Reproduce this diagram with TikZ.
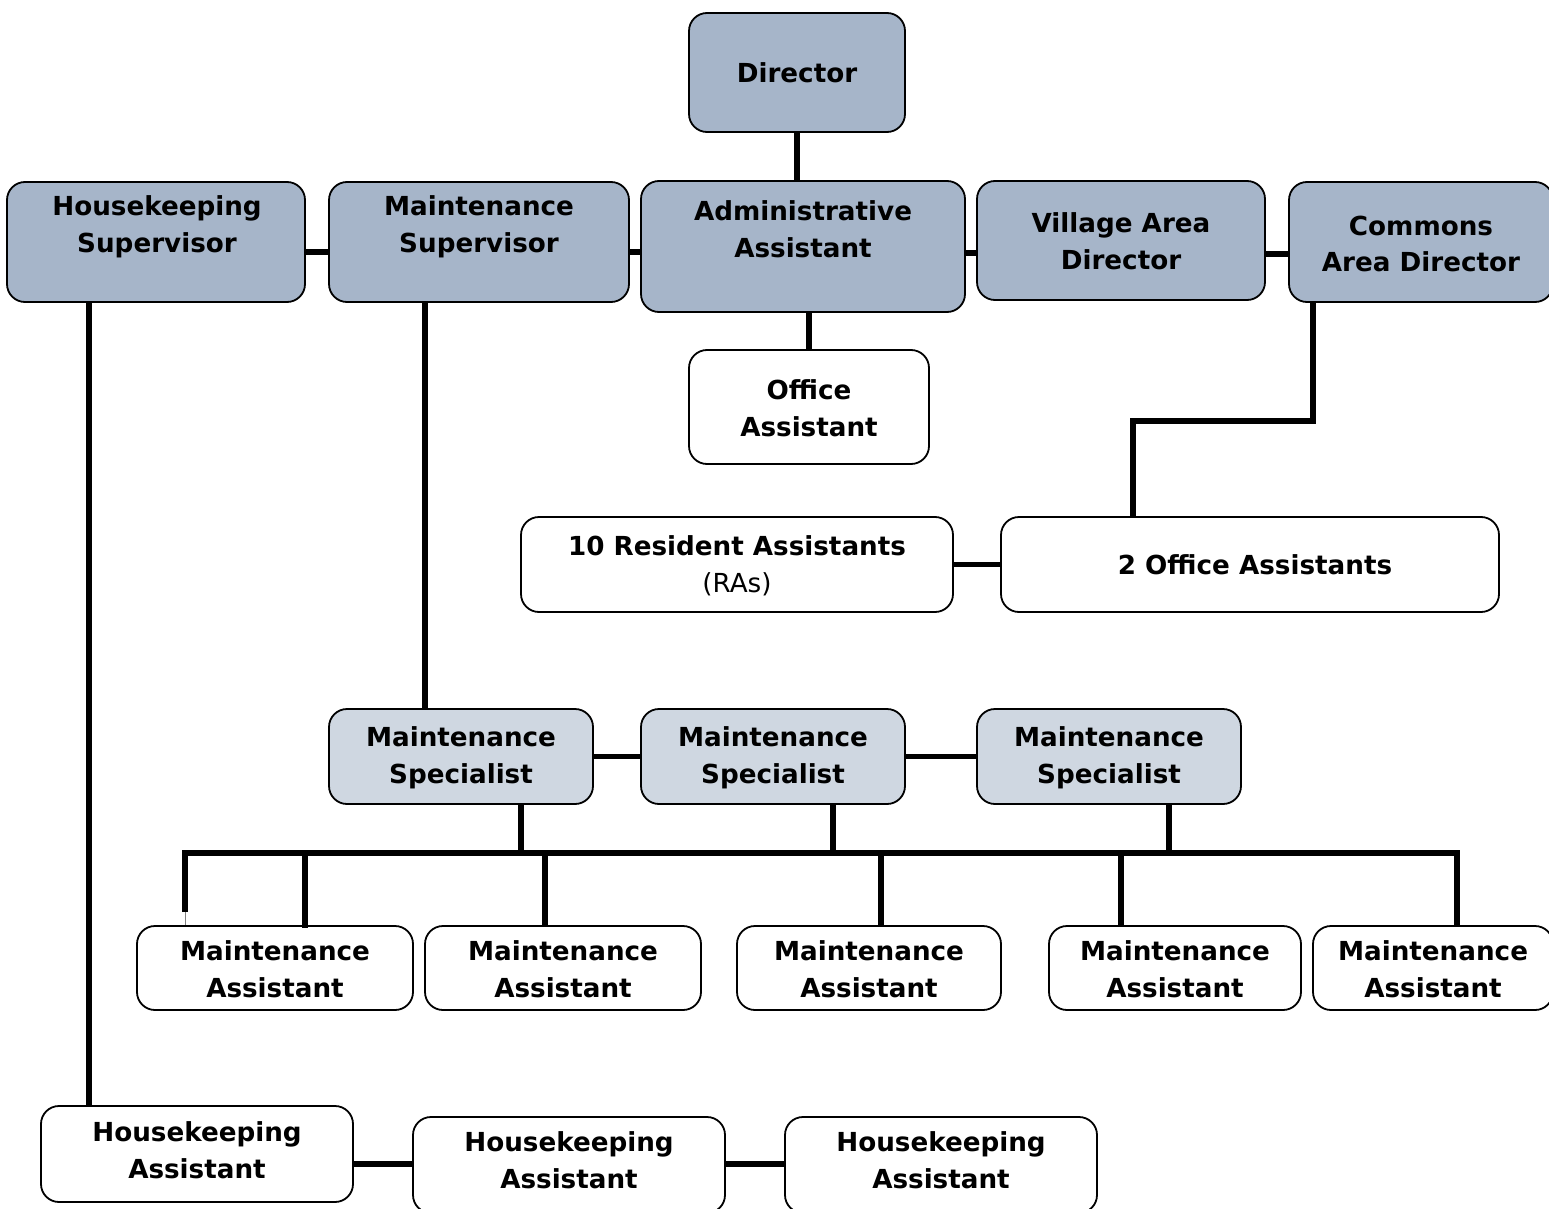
\documentclass[tikz,border=0pt]{standalone}
\usepackage{fontspec}
\setmainfont{DejaVu Sans}
\definecolor{topfill}{HTML}{A6B5C9}
\definecolor{specfill}{HTML}{CFD7E1}
\tikzset{
  box/.style={draw=black, line width=1.8pt, rounded corners=18pt, inner sep=0pt},
  darkbox/.style={box, fill=topfill},
  lightbox/.style={box, fill=specfill},
  whitebox/.style={box, fill=white},
  lbl/.style={font=\fontsize{26.2}{36.5}\selectfont\bfseries, align=center, inner sep=0pt, yshift=-2pt},
  conn/.style={line width=5.5pt},
}
\begin{document}
\begin{tikzpicture}[x=1pt,y=-1pt]
\useasboundingbox (0,0) rectangle (1549,1209);
\clip (0,0) rectangle (1549,1209);
% boxes
\node[darkbox, minimum width=216pt, minimum height=119pt] (dir) at (797,72.5) {};
\node[darkbox, minimum width=298pt, minimum height=120pt] (hs) at (156,242) {};
\node[darkbox, minimum width=300pt, minimum height=120pt] (mts) at (479,242) {};
\node[darkbox, minimum width=324pt, minimum height=131pt] (adm) at (803,246.5) {};
\node[darkbox, minimum width=288pt, minimum height=119pt] (vil) at (1121,240.5) {};
\node[darkbox, minimum width=264pt, minimum height=120pt] (com) at (1421,242) {};
\node[whitebox, minimum width=240pt, minimum height=114pt] (off) at (809,407) {};
\node[whitebox, minimum width=432pt, minimum height=95pt] (ra) at (737,564.5) {};
\node[whitebox, minimum width=498pt, minimum height=95pt] (oa) at (1250,564.5) {};
\node[lightbox, minimum width=264pt, minimum height=95pt] (sp1) at (461,756.5) {};
\node[lightbox, minimum width=264pt, minimum height=95pt] (sp2) at (773,756.5) {};
\node[lightbox, minimum width=264pt, minimum height=95pt] (sp3) at (1109,756.5) {};
\node[whitebox, minimum width=276pt, minimum height=84pt] (ma1) at (275,968) {};
\node[whitebox, minimum width=276pt, minimum height=84pt] (ma2) at (563,968) {};
\node[whitebox, minimum width=264pt, minimum height=84pt] (ma3) at (869,968) {};
\node[whitebox, minimum width=252pt, minimum height=84pt] (ma4) at (1175,968) {};
\node[whitebox, minimum width=240pt, minimum height=84pt] (ma5) at (1433,968) {};
\node[whitebox, minimum width=312pt, minimum height=96pt] (ha1) at (197,1154) {};
\node[whitebox, minimum width=312pt, minimum height=96pt] (ha2) at (569,1165) {};
\node[whitebox, minimum width=312pt, minimum height=96pt] (ha3) at (941,1165) {};
% labels
\node[lbl] (tdir) at (797,71) {Director};
\node[lbl] (ths) at (157,225) {Housekeeping\\Supervisor};
\node[lbl] (tmts) at (479,225) {Maintenance\\Supervisor};
\node[lbl] (tadm) at (803,227) {Administrative\\Assistant};
\node[lbl] (tvil) at (1121,239) {Village Area\\Director};
\node[lbl] (tcom) at (1421,242) {Commons\\Area Director};
\node[lbl] (toff) at (809,406) {Office\\Assistant};
\node[lbl] (tra) at (737,564) {10 Resident Assistants\\{\mdseries (RAs)}};
\node[lbl] (toa) at (1255,563) {2 Office Assistants};
\node[lbl] (tsp1) at (461,756) {Maintenance\\Specialist};
\node[lbl] (tsp2) at (773,756) {Maintenance\\Specialist};
\node[lbl] (tsp3) at (1109,756) {Maintenance\\Specialist};
\node[lbl] (tma1) at (275,967) {Maintenance\\Assistant};
\node[lbl] (tma2) at (563,967) {Maintenance\\Assistant};
\node[lbl] (tma3) at (869,967) {Maintenance\\Assistant};
\node[lbl] (tma4) at (1175,967) {Maintenance\\Assistant};
\node[lbl] (tma5) at (1433,967) {Maintenance\\Assistant};
\node[lbl] (tha1) at (197,1148) {Housekeeping\\Assistant};
\node[lbl] (tha2) at (569,1158) {Housekeeping\\Assistant};
\node[lbl] (tha3) at (941,1158) {Housekeeping\\Assistant};
% connectors
\coordinate (bus) at (0,853);
\draw[conn] (dir.south) -- (dir.south |- adm.north);
\draw[conn] (hs.east |- 0,252) -- (mts.west |- 0,252);
\draw[conn] (mts.east |- 0,252) -- (adm.west |- 0,252);
\draw[conn] (adm.east |- 0,253) -- (vil.west |- 0,253);
\draw[conn] (vil.east |- 0,254) -- (com.west |- 0,254);
\draw[conn] (off.north |- adm.south) -- (off.north);
\draw[conn] (1313,0 |- com.south) -- (1313,421) -- (1133,421) -- (1133,0 |- oa.north);
\draw[conn] (ra.east) -- (oa.west);
\draw[conn] (89,0 |- hs.south) -- (89,0 |- ha1.north);
\draw[conn] (425,0 |- mts.south) -- (425,0 |- sp1.north);
\draw[conn] (sp1.east) -- (sp2.west);
\draw[conn] (sp2.east) -- (sp3.west);
\draw[conn] (521,0 |- sp1.south) -- (521,0 |- bus);
\draw[conn] (833,0 |- sp2.south) -- (833,0 |- bus);
\draw[conn] (1169,0 |- sp3.south) -- (1169,0 |- bus);
\draw[conn] (185,912) -- (185,0 |- bus) -- (1457,0 |- bus) -- (1457,0 |- ma5.north);
\draw[line width=0.8pt, gray] (185,912) -- (185,0 |- ma1.north);
\draw[conn] (305,0 |- bus) -- (305,928);
\draw[conn] (545,0 |- bus) -- (545,0 |- ma2.north);
\draw[conn] (881,0 |- bus) -- (881,0 |- ma3.north);
\draw[conn] (1121,0 |- bus) -- (1121,0 |- ma4.north);
\draw[conn] (ha1.east |- 0,1164) -- (ha2.west |- 0,1164);
\draw[conn] (ha2.east |- 0,1164) -- (ha3.west |- 0,1164);
\end{tikzpicture}
\end{document}
